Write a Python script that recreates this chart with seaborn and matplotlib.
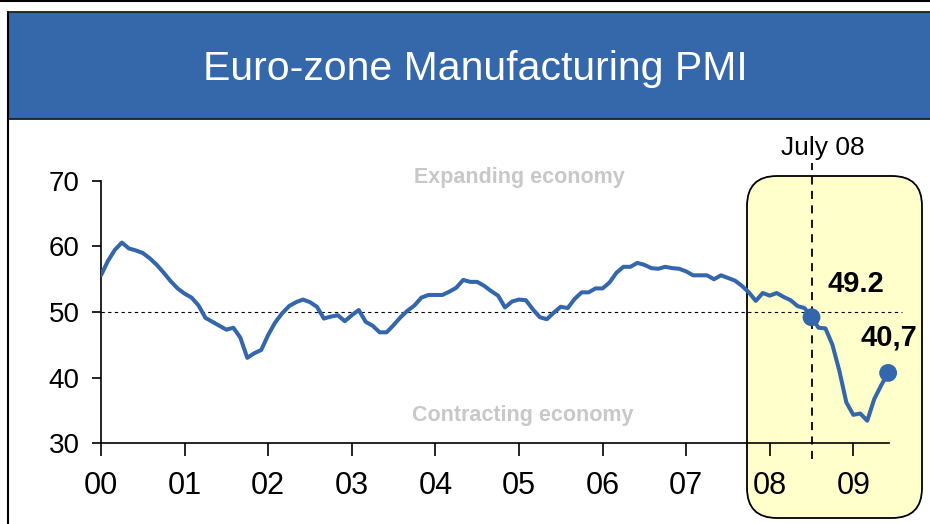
import numpy as np
import pandas as pd
import matplotlib
matplotlib.use("Agg")
import matplotlib.pyplot as plt
from matplotlib.patches import Rectangle, FancyBboxPatch
from matplotlib.lines import Line2D
from matplotlib.transforms import IdentityTransform
import seaborn as sns

# ---------------- data ----------------
title = "Euro-zone Manufacturing PMI"
start_year = 2000
# monthly PMI, Jan 2000 .. Jun 2009
pmi = [
    55.6, 57.8, 59.5, 60.6, 59.7, 59.4, 59.0, 58.2, 57.2, 56.0, 54.7, 53.6,   # 2000
    52.8, 52.2, 51.0, 49.1, 48.5, 47.9, 47.3, 47.6, 46.1, 43.0, 43.7, 44.2,   # 2001
    46.5, 48.4, 49.8, 50.9, 51.5, 51.9, 51.5, 50.8, 49.0, 49.3, 49.5, 48.6,   # 2002
    49.5, 50.3, 48.5, 47.9, 46.9, 46.9, 48.0, 49.2, 50.2, 51.0, 52.2, 52.6,   # 2003
    52.6, 52.6, 53.1, 53.7, 54.9, 54.6, 54.6, 54.0, 53.2, 52.5, 50.7, 51.6,   # 2004
    51.9, 51.8, 50.4, 49.2, 48.9, 49.9, 50.8, 50.6, 52.0, 53.0, 53.0, 53.6,   # 2005
    53.6, 54.5, 56.0, 56.9, 56.9, 57.5, 57.2, 56.7, 56.6, 56.9, 56.7, 56.6,   # 2006
    56.2, 55.6, 55.6, 55.6, 55.0, 55.6, 55.2, 54.8, 54.0, 53.0, 51.7, 52.9,   # 2007
    52.5, 52.9, 52.3, 51.8, 50.9, 50.6, 49.2, 47.6, 47.5, 45.0, 41.0, 36.2,   # 2008
    34.3, 34.5, 33.4, 36.7, 38.8, 40.7,                                       # 2009
]
year_ticks = list(range(2000, 2010))
year_labels = ["00", "01", "02", "03", "04", "05", "06", "07", "08", "09"]
y_ticks = [30, 40, 50, 60, 70]
threshold = 50
highlight_index = 102          # July 2008
highlight_label = "July 08"
highlight_value_text = "49.2"
last_value_text = "40,7"
expand_label = "Expanding economy"
contract_label = "Contracting economy"

# ---------------- style ----------------
W, H = 930, 524
blue_banner = "#3567AB"
line_color = "#3466AC"
sns.set_theme(style="white")
plt.rcParams["font.family"] = ["Liberation Sans", "DejaVu Sans"]

years = start_year + np.arange(len(pmi)) / 12.0
df = pd.DataFrame({"year": years, "pmi": pmi})
dots = df.iloc[[highlight_index, len(df) - 1]]

fig = plt.figure(figsize=(W / 100, H / 100), dpi=100)

# frame and banner (pixel coordinates)
fig.add_artist(Line2D([0, W], [H - 1, H - 1], transform=IdentityTransform(),
                      color="black", lw=1.5))
fig.add_artist(Line2D([8, 8], [0, H - 12], transform=IdentityTransform(),
                      color="black", lw=1.5))
fig.add_artist(Rectangle((8, H - 119), W + 10, 107, transform=IdentityTransform(),
                         facecolor=blue_banner, edgecolor="#1e1e1e", lw=1.3))
fig.text(475 / W, 1 - 80 / H, title, ha="center", va="baseline",
         color="white", fontsize=29.5)

# highlight box
box = FancyBboxPatch((747, H - 518), 175, 342,
                     boxstyle="round,pad=0,rounding_size=30",
                     transform=IdentityTransform(),
                     facecolor="#FFFFCC", edgecolor="black", lw=1.3, zorder=-1)
fig.add_artist(box)

left_px, right_px, top_px, bottom_px = 101, 889, 181, 443
ax = fig.add_axes([left_px / W, 1 - bottom_px / H,
                   (right_px - left_px) / W, (bottom_px - top_px) / H])
ax.set_facecolor("none")

px_per_year = 83.59
ax.set_xlim(2000, 2000 + (right_px - left_px) / px_per_year)
ax.set_ylim(30, 70)

# threshold line
ax.plot([2000, 2009.58], [threshold, threshold], color="black", lw=0.8,
        ls=(0, (3, 3)), clip_on=False, zorder=1)

# July 08 marker line
xh = df["year"].iloc[highlight_index]
ax.plot([xh, xh], [27.55, 72.75], color="black", lw=1.3, ls=(0, (4.5, 3.5)),
        clip_on=False, zorder=2)

sns.lineplot(data=df, x="year", y="pmi", ax=ax, color=line_color, lw=2.9, zorder=3)
sns.scatterplot(data=dots, x="year", y="pmi", ax=ax, color=line_color, s=165,
                edgecolor="none", zorder=4, clip_on=False)

ax.set_xticks(year_ticks)
ax.set_xticklabels(year_labels)
ax.set_yticks(y_ticks)
ax.set_xlabel("")
ax.set_ylabel("")
for s in ["top", "right"]:
    ax.spines[s].set_visible(False)
for s in ["left", "bottom"]:
    ax.spines[s].set_color("black")
    ax.spines[s].set_linewidth(1.2)
ax.tick_params(axis="y", direction="out", length=6.5, width=1.2, pad=9,
               labelsize=20, colors="black", left=True)
ax.tick_params(axis="x", direction="out", length=9, width=1.2, pad=11,
               labelsize=22, colors="black", bottom=True)

# annotations
grey = "#C8C8C8"
ax.text(2005.01, 69.74, expand_label, ha="center", va="baseline", color=grey,
        fontsize=15.5, fontweight="bold", clip_on=False)
ax.text(2005.04, 33.4, contract_label, ha="center", va="baseline", color=grey,
        fontsize=15.5, fontweight="bold", clip_on=False)
ax.text(2008.64, 73.97, highlight_label, ha="center", va="baseline", color="black",
        fontsize=19, clip_on=False)
ax.text(2009.035, 53.1, highlight_value_text, ha="center", va="baseline",
        color="black", fontsize=21, fontweight="bold", clip_on=False)
ax.text(2009.427, 44.96, last_value_text, ha="center", va="baseline",
        color="black", fontsize=21, fontweight="bold", clip_on=False)

fig.savefig("out.png", dpi=100)
